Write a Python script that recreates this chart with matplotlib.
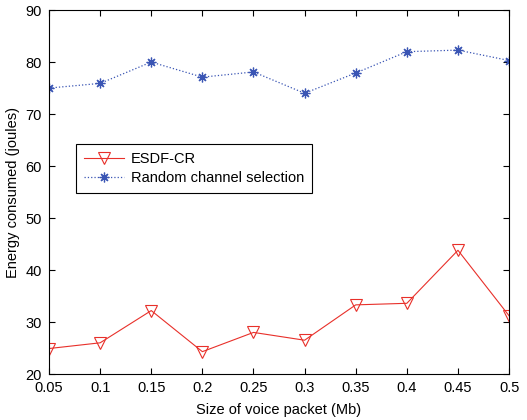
import matplotlib
matplotlib.use("Agg")
import matplotlib.pyplot as plt

plt.rcParams['font.family'] = ['Liberation Sans', 'DejaVu Sans']

# Data
packet_size = [0.05, 0.1, 0.15, 0.2, 0.25, 0.3, 0.35, 0.4, 0.45, 0.5]
esdf_cr = [24.9, 26.0, 32.2, 24.3, 28.0, 26.5, 33.3, 33.6, 43.8, 31.2]
random_sel = [75.0, 75.9, 80.0, 77.1, 78.1, 74.0, 77.9, 82.0, 82.3, 80.3]
xticks = [0.05, 0.1, 0.15, 0.2, 0.25, 0.3, 0.35, 0.4, 0.45, 0.5]
xticklabels = ["0.05", "0.1", "0.15", "0.2", "0.25", "0.3", "0.35", "0.4", "0.45", "0.5"]

fig = plt.figure(figsize=(5.27, 4.2), dpi=100)
ax = fig.add_axes([0.093, 0.1095, 0.873, 0.8665])

ax.plot(packet_size, esdf_cr, color='#e8302a', lw=0.8, marker='v', ms=8,
        mfc='none', mec='#e8302a', mew=0.8, label='ESDF-CR')
# MATLAB-style asterisk marker
ax.plot(packet_size, random_sel, color='#3a55b4', lw=0.9, ls=':', marker=(8, 2, 0), ms=7,
        mfc='#3a55b4', mec='#3a55b4', mew=0.9, label='Random channel selection')

ax.set_xlim(0.05, 0.5)
ax.set_ylim(20, 90)
ax.set_xticks(xticks)
ax.set_xticklabels(xticklabels)
ax.set_yticks(range(20, 91, 10))
ax.tick_params(direction='in', top=True, right=True, labelsize=10.5, length=4, pad=5)
for s in ax.spines.values():
    s.set_linewidth(0.8)

ax.set_xlabel('Size of voice packet (Mb)', fontsize=10.5, labelpad=6)
ax.set_ylabel('Energy consumed (joules)', fontsize=10.5, labelpad=4)

leg = ax.legend(loc='upper left', bbox_to_anchor=(0.059, 0.631), fontsize=10.5,
                fancybox=False, edgecolor='black', framealpha=1, borderaxespad=0,
                borderpad=0.55, labelspacing=0.3, handlelength=2.7, handletextpad=0.5)
leg.get_frame().set_linewidth(0.8)

fig.savefig('out.png', dpi=100)
